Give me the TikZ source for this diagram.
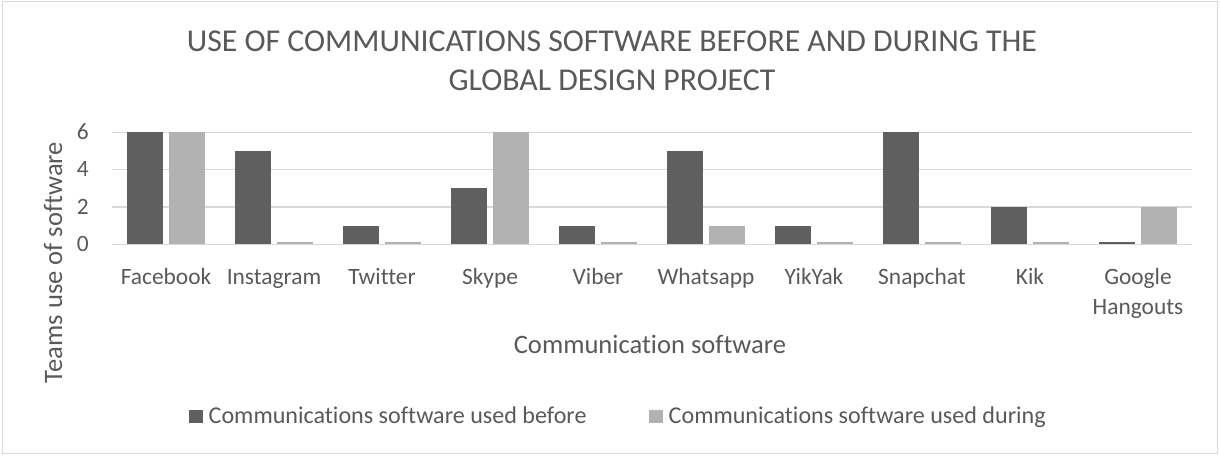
\documentclass[tikz,border=0pt]{standalone}
\usepackage{fontspec}
\setmainfont[Ligatures=NoCommon]{Carlito}
\definecolor{textgray}{HTML}{595959}
\definecolor{gridgray}{HTML}{D9D9D9}
\definecolor{beforegray}{HTML}{5F5F5F}
\definecolor{duringgray}{HTML}{B2B2B2}
\tikzset{
  {grid line/.style} ={draw=gridgray,line width=1.4pt},
  {before bar/.style} ={fill=beforegray},
  {during bar/.style} ={fill=duringgray},
  {label text/.style} ={text=textgray,inner sep=0,
                 font=\fontsize{23.4}{30}\selectfont},
  {legend text/.style} ={label text,font=\fontsize{24.1}{29}\selectfont},
  {axis title/.style} ={label text,font=\fontsize{26.6}{32}\selectfont},
  {chart title/.style} ={label text,font=\fontsize{31.8}{38}\selectfont},
}

\begin{document}
\begin{tikzpicture}[x=1pt,y=-1pt]
\useasboundingbox (0,0) rectangle (1220,455);
\draw[gridgray,line width=1.5pt] (2.5,1.5) rectangle (1217.5,453.5);
\node[chart title,anchor=base] (title1) at (612,51.7)
  {USE OF COMMUNICATIONS SOFTWARE BEFORE AND DURING THE};
\node[chart title,anchor=base] (title2) at (612,90) {GLOBAL DESIGN PROJECT};
% value axis
\foreach \v in {0,2,4,6} {
  \draw[grid line] (112,{244.3-18.67*\v}) -- (1192,{244.3-18.67*\v});
  \node[label text,anchor=base east] (tick\v) at (89,{244.3-18.67*\v+7.1}) {\v};
}
% bars, before and during; last field is the baseline of the label's last line
\foreach \lab/\b/\d/\ly [count=\i from 0] in {Facebook/6/6/284,
    Instagram/5/0.12/284, Twitter/1/0.12/284, Skype/3/6/284,
    Viber/1/0.12/284, Whatsapp/5/1/284, YikYak/1/0.12/284,
    Snapchat/6/0.12/284, Kik/2/0.12/284, {Google\\Hangouts}/0.12/2/314} {
  \pgfmathsetmacro{\c}{166+108*\i}
  \fill[before bar] ({\c-39},244.3) rectangle ({\c-3},{244.3-18.67*\b});
  \fill[during bar] ({\c+3},244.3) rectangle ({\c+39},{244.3-18.67*\d});
  \node[label text,anchor=base,align=center] (cat\i) at (\c,\ly) {\lab};
}
\node[axis title,anchor=base] (xtitle) at (650,353.3) {Communication software};
\node[axis title,rotate=90,anchor=base] (ytitle) at (62,262.5) {Teams use of software};
% legend
\fill[before bar] (189,410) rectangle (203,423);
\node[legend text,anchor=base west] (leg1) at (208.5,423) {Communications software used before};
\fill[during bar] (649,410) rectangle (663,423);
\node[legend text,anchor=base west] (leg2) at (668.5,423) {Communications software used during};
\end{tikzpicture}
\end{document}
